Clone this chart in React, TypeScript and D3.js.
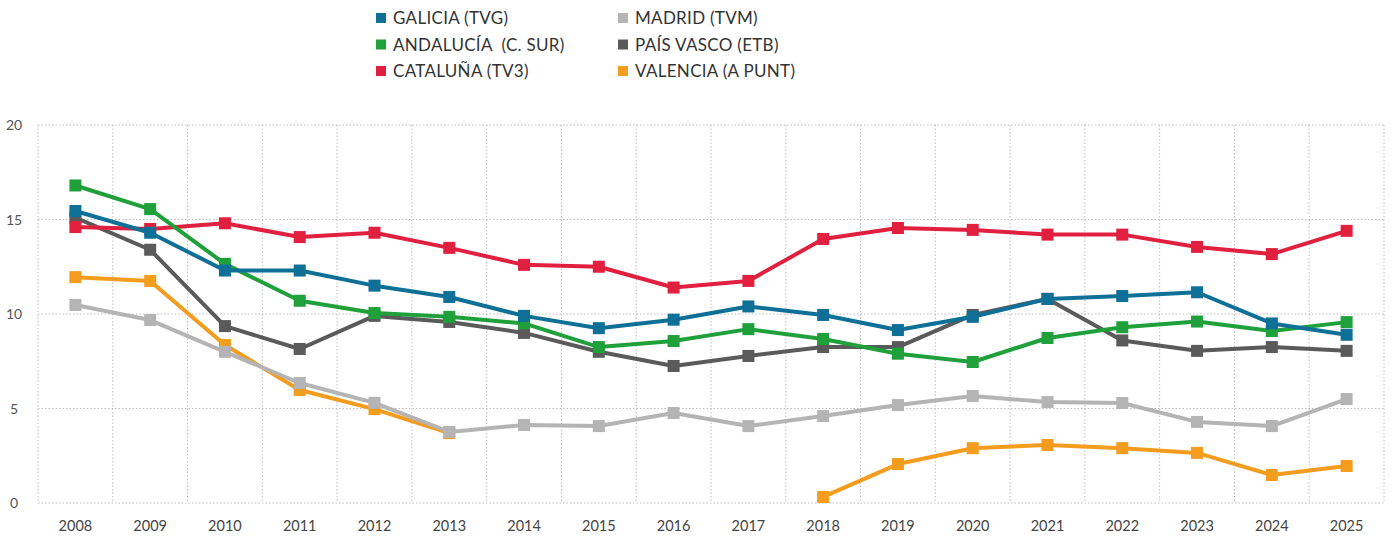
import React from 'react';
import * as d3 from 'd3';

const years = ['2008', '2009', '2010', '2011', '2012', '2013', '2014', '2015', '2016',
  '2017', '2018', '2019', '2020', '2021', '2022', '2023', '2024', '2025'];

const yTicks = [0, 5, 10, 15, 20];

const galicia = [15.45, 14.3, 12.3, 12.3, 11.5, 10.9, 9.9, 9.25, 9.7, 10.4, 9.95, 9.15, 9.85, 10.8, 10.95, 11.15, 9.5, 8.9];
const andalucia = [16.8, 15.55, 12.65, 10.7, 10.05, 9.85, 9.5, 8.25, 8.57, 9.2, 8.68, 7.9, 7.46, 8.73, 9.3, 9.6, 9.1, 9.57];
const cataluna = [14.6, 14.5, 14.8, 14.07, 14.3, 13.5, 12.6, 12.5, 11.4, 11.75, 13.97, 14.55, 14.45, 14.2, 14.2, 13.55, 13.17, 14.4];
const madrid = [10.48, 9.68, 8.0, 6.35, 5.3, 3.76, 4.13, 4.07, 4.76, 4.07, 4.6, 5.18, 5.66, 5.34, 5.29, 4.29, 4.07, 5.5];
const paisVasco = [15.1, 13.4, 9.36, 8.15, 9.9, 9.58, 9.0, 8.0, 7.25, 7.78, 8.25, 8.25, 9.95, 10.8, 8.6, 8.05, 8.25, 8.05];
const valencia = [11.95, 11.75, 8.36, 5.98, 4.97, 3.7, null, null, null, null, 0.32, 2.06, 2.9, 3.07, 2.9, 2.65, 1.48, 1.96];

type Serie = { name: string; color: string; values: (number | null)[] };

// draw order: last one on top
const series: Serie[] = [
  { name: 'VALENCIA (A PUNT)', color: '#f39c1e', values: valencia },
  { name: 'MADRID (TVM)', color: '#b4b4b4', values: madrid },
  { name: 'PAÍS VASCO (ETB)', color: '#5a5a5a', values: paisVasco },
  { name: 'CATALUÑA (TV3)', color: '#e1203f', values: cataluna },
  { name: 'ANDALUCÍA  (C. SUR)', color: '#1fa03a', values: andalucia },
  { name: 'GALICIA (TVG)', color: '#0e6f97', values: galicia },
];

const legendCols = [
  ['GALICIA (TVG)', 'ANDALUCÍA  (C. SUR)', 'CATALUÑA (TV3)'],
  ['MADRID (TVM)', 'PAÍS VASCO (ETB)', 'VALENCIA (A PUNT)'],
];

const width = 1396;
const height = 540;
const font = "'Lato', 'Open Sans', sans-serif";

export default function App() {
  const x = d3.scaleBand().domain(years).range([38, 1384]).paddingInner(0).paddingOuter(0);
  const y = d3.scaleLinear().domain([0, 20]).range([503, 125]);
  const cx = (yr: string) => (x(yr) as number) + x.bandwidth() / 2;

  const line = d3.line<number | null>()
    .defined(d => d !== null)
    .x((_, i) => cx(years[i]))
    .y(d => y(d as number));

  const colorOf = (name: string) => series.find(s => s.name === name)!.color;
  const boundaries = years.map(yr => x(yr) as number).concat([x.range()[1]]);

  return (
    <svg width={width} height={height} style={{ position: 'absolute', left: 0, top: 0, background: '#fff' }}
      fontFamily={font}>
      {/* grid */}
      <g stroke="#bdbdbd" strokeWidth={1} strokeDasharray="1.5,2">
        {yTicks.map(t => (
          <line key={'h' + t} x1={38} x2={1384} y1={y(t)} y2={y(t)} />
        ))}
        {boundaries.map((b, i) => (
          <line key={'v' + i} x1={b} x2={b} y1={y(20)} y2={y(0)} />
        ))}
      </g>

      {/* y axis labels */}
      <g fill="#555" fontSize={14} textAnchor="middle">
        {yTicks.map(t => (
          <text key={t} x={14} y={y(t) + 5}>{t}</text>
        ))}
      </g>

      {/* x axis labels */}
      <g fill="#444" fontSize={14.5} textAnchor="middle">
        {years.map(yr => (
          <text key={yr} x={cx(yr)} y={531}>{yr}</text>
        ))}
      </g>

      {/* lines */}
      {series.map(s => (
        <g key={s.name}>
          <path d={line(s.values) ?? ''} fill="none" stroke={s.color} strokeWidth={4} strokeLinejoin="round" />
          {s.values.map((v, i) => v === null ? null : (
            <rect key={i} x={cx(years[i]) - 6} y={y(v) - 6} width={12} height={12} fill={s.color} />
          ))}
        </g>
      ))}

      {/* legend */}
      {legendCols.map((col, ci) => (
        <g key={ci} transform={`translate(${ci === 0 ? 376 : 618},0)`}>
          {col.map((name, ri) => (
            <g key={name} transform={`translate(0,${18 + ri * 26.5})`}>
              <rect x={0} y={-5} width={10} height={10} fill={colorOf(name)} />
              <text x={17} y={6} fontSize={17} letterSpacing={0.3} fill="#333" xmlSpace="preserve">{name}</text>
            </g>
          ))}
        </g>
      ))}
    </svg>
  );
}
